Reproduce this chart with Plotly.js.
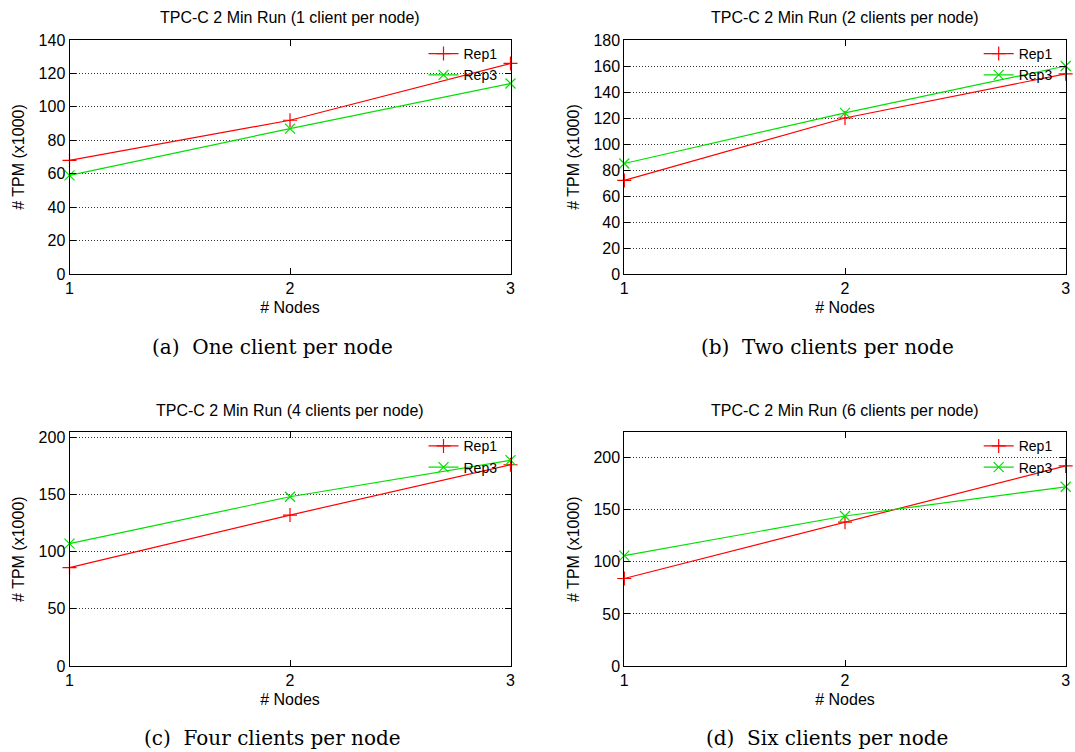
<!DOCTYPE html>
<html>
<head>
<meta charset="utf-8">
<script src="https://cdn.plot.ly/plotly-3.0.1.min.js"></script>
<style>
html,body{margin:0;padding:0;background:#fff;}
#chart{width:1075px;height:752px;}
</style>
</head>
<body>
<div id="chart"></div>
<script>
// ---- data ----
const nodes = [1, 2, 3];
const rep1_c1 = [68, 92, 126];
const rep3_c1 = [59, 87, 114];
const rep1_c2 = [72, 120, 154];
const rep3_c2 = [85, 124, 160];
const rep1_c4 = [86, 132, 176];
const rep3_c4 = [107, 148, 180];
const rep1_c6 = [84, 138, 192];
const rep3_c6 = [106, 144, 172];
const seriesNames = ['Rep1', 'Rep3'];
const panelTitles = [
  'TPC-C 2 Min Run (1 client per node)',
  'TPC-C 2 Min Run (2 clients per node)',
  'TPC-C 2 Min Run (4 clients per node)',
  'TPC-C 2 Min Run (6 clients per node)'
];
const captions = [
  '(a)  One client per node',
  '(b)  Two clients per node',
  '(c)  Four clients per node',
  '(d)  Six clients per node'
];
const xTitle = '# Nodes';
const yTitle = '# TPM (x1000)';
const yMax = [140, 180, 204.4, 224.3];
const yDtick = [20, 20, 50, 50];

// ---- layout geometry ----
const W = 1075, H = 752;
const RED = '#ff0000', GREEN = '#00e000';
const panels = [
  {r1: rep1_c1, r3: rep3_c1, x0: 69.5, x1: 510.5, y0: 40, y1: 274},
  {r1: rep1_c2, r3: rep3_c2, x0: 624.3, x1: 1065.7, y0: 40, y1: 274},
  {r1: rep1_c4, r3: rep3_c4, x0: 69.5, x1: 510.5, y0: 432.3, y1: 666},
  {r1: rep1_c6, r3: rep3_c6, x0: 624.3, x1: 1065.7, y0: 432.3, y1: 666}
];
const captionPos = [[272, 347], [827, 347], [272, 738], [827, 738]];

const sans = 'Liberation Sans, Arial, sans-serif';
const traces = [];
const layout = {
  width: W, height: H,
  margin: {l: 0, r: 0, t: 0, b: 0},
  paper_bgcolor: '#fff', plot_bgcolor: '#fff',
  font: {family: sans, size: 16, color: '#000'},
  annotations: [],
  showlegend: true
};

panels.forEach((p, i) => {
  const n = i + 1;
  const xa = 'x' + (n === 1 ? '' : n), ya = 'y' + (n === 1 ? '' : n);
  const legName = 'legend' + (n === 1 ? '' : n);
  traces.push({
    x: nodes, y: p.r1, xaxis: xa, yaxis: ya, name: seriesNames[0], legend: legName,
    type: 'scatter', mode: 'lines+markers', cliponaxis: false,
    line: {color: RED, width: 1.2},
    marker: {symbol: 'cross-thin-open', size: 10, color: RED, line: {color: RED, width: 1.2}}
  });
  traces.push({
    x: nodes, y: p.r3, xaxis: xa, yaxis: ya, name: seriesNames[1], legend: legName,
    type: 'scatter', mode: 'lines+markers', cliponaxis: false,
    line: {color: GREEN, width: 1.2},
    marker: {symbol: 'x-thin-open', size: 10, color: GREEN, line: {color: GREEN, width: 1.2}}
  });
  const xKey = 'xaxis' + (n === 1 ? '' : n), yKey = 'yaxis' + (n === 1 ? '' : n);
  layout[xKey] = {
    domain: [p.x0 / W, p.x1 / W], anchor: ya,
    range: [1, 3], tickvals: nodes, ticktext: nodes.map(String),
    showgrid: false, zeroline: false,
    showline: true, linecolor: '#000', linewidth: 1, mirror: 'ticks',
    ticks: 'inside', ticklen: 6, tickcolor: '#000',
    tickfont: {family: sans, size: 16, color: '#000'},
    title: {text: xTitle, font: {family: sans, size: 16, color: '#000'}, standoff: 5}
  };
  layout[yKey] = {
    domain: [1 - p.y1 / H, 1 - p.y0 / H], anchor: xa,
    range: [0, yMax[i]], tick0: 0, dtick: yDtick[i],
    showgrid: true, gridcolor: '#333', griddash: '1px,2px', gridwidth: 1,
    zeroline: false,
    showline: true, linecolor: '#000', linewidth: 1, mirror: 'ticks',
    ticks: 'inside', ticklen: 6, tickcolor: '#000',
    tickfont: {family: sans, size: 16, color: '#000'},
    title: {text: yTitle, font: {family: sans, size: 16, color: '#000'}, standoff: 9}
  };
  layout[legName] = {
    x: (p.x1 - 8) / W, xanchor: 'right',
    y: 1 - (p.y0 - 2) / H, yanchor: 'top',
    bgcolor: 'rgba(0,0,0,0)', borderwidth: 0,
    font: {family: sans, size: 14, color: '#000'},
    tracegroupgap: 0, itemwidth: 30
  };
  layout.annotations.push({
    text: panelTitles[i], xref: 'paper', yref: 'paper',
    x: (p.x0 + p.x1) / 2 / W, y: 1 - (p.y0 - 22) / H,
    xanchor: 'center', yanchor: 'middle', showarrow: false,
    font: {family: sans, size: 16, color: '#000'}
  });
  layout.annotations.push({
    text: captions[i], xref: 'paper', yref: 'paper',
    x: captionPos[i][0] / W, y: 1 - captionPos[i][1] / H,
    xanchor: 'center', yanchor: 'middle', showarrow: false,
    font: {family: 'DejaVu Serif, Liberation Serif, serif', size: 20, color: '#000'}
  });
});

Plotly.newPlot('chart', traces, layout, {displayModeBar: false, staticPlot: true});
</script>
</body>
</html>
